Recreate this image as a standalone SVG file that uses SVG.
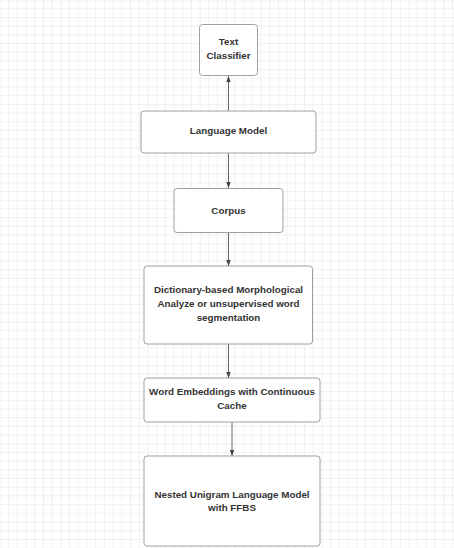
<svg xmlns="http://www.w3.org/2000/svg" width="454" height="548" viewBox="0 0 454 548">
<defs>
<pattern id="grid" x="0.5" y="0.5" width="8.7" height="8.7" patternUnits="userSpaceOnUse">
<path d="M8.7 0V8.7M0 8.7H8.7" fill="none" stroke="#e3e3e3" stroke-width="1"/>
</pattern>
<marker id="ah" viewBox="0 0 6 6" refX="6" refY="3" markerWidth="6" markerHeight="6" markerUnits="userSpaceOnUse" orient="auto">
<path d="M0 0.8L6 3L0 5.2Z" fill="#444"/>
</marker>
</defs>
<style>
.box{fill:#fff;stroke:#a0a0a0;stroke-width:1}
.t{font-family:"Liberation Sans",Arial,sans-serif;font-weight:bold;font-size:9.8px;fill:#333;text-anchor:middle}
.c{stroke:#666;stroke-width:1;fill:none;marker-end:url(#ah)}
</style>
<rect width="454" height="548" fill="#fff"/>
<rect width="454" height="548" fill="url(#grid)"/>
<g id="connectors">
<path class="c" d="M228.5 111V76"/>
<path class="c" d="M228.5 153V188"/>
<path class="c" d="M228.5 233V266"/>
<path class="c" d="M228.5 344V378"/>
<path class="c" d="M232 422V456"/>
</g>
<g id="text-classifier">
<rect class="box" x="199.5" y="24.5" width="58" height="51" rx="3"/>
<text class="t" x="228.5" y="45">Text</text>
<text class="t" x="228.5" y="58.5">Classifier</text>
</g>
<g id="language-model">
<rect class="box" x="141" y="111" width="175" height="42" rx="3"/>
<text class="t" x="228.5" y="134">Language Model</text>
</g>
<g id="corpus">
<rect class="box" x="174" y="188.5" width="109" height="44" rx="3"/>
<text class="t" x="228.5" y="213.5">Corpus</text>
</g>
<g id="dictionary">
<rect class="box" x="144" y="266" width="168.5" height="78" rx="3"/>
<text class="t" x="228.5" y="292.5">Dictionary-based Morphological</text>
<text class="t" x="228.5" y="306.5">Analyze or unsupervised word</text>
<text class="t" x="228.5" y="320.5">segmentation</text>
</g>
<g id="word-embeddings">
<rect class="box" x="144" y="378" width="176" height="44" rx="3"/>
<text class="t" x="232" y="395">Word Embeddings with Continuous</text>
<text class="t" x="232" y="408.5">Cache</text>
</g>
<g id="nested-unigram">
<rect class="box" x="144" y="456" width="176" height="90" rx="3"/>
<text class="t" x="232" y="497.5">Nested Unigram Language Model</text>
<text class="t" x="232" y="511">with FFBS</text>
</g>
</svg>
